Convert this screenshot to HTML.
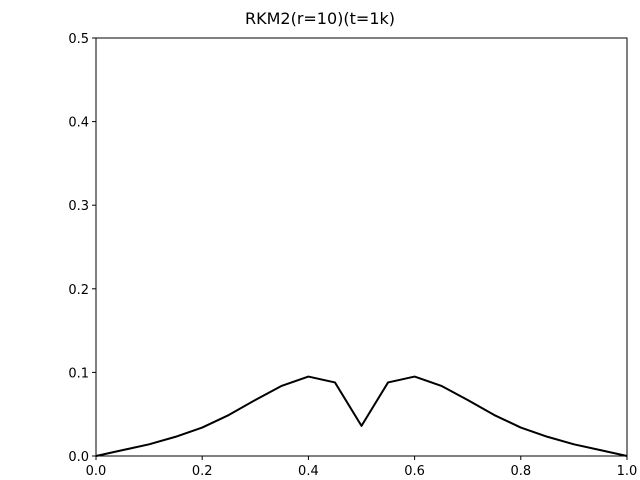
<!DOCTYPE html>
<html>
<head>
<meta charset="utf-8">
<style>
html,body{margin:0;padding:0;background:#fff;}
svg{display:block;font-family:"DejaVu Sans","Liberation Sans",sans-serif;}
</style>
</head>
<body>
<svg id="chart" width="640" height="480" viewBox="0 0 640 480">
<text x="320" y="24" text-anchor="middle" font-size="16">RKM2(r=10)(t=1k)</text>
<g id="axes"></g>
<polyline id="series" fill="none" stroke="#000" stroke-width="2" stroke-linejoin="round"></polyline>
<rect x="96" y="38" width="531" height="418" fill="none" stroke="#000" stroke-width="1"></rect>
</svg>
<script>
const xValues = [0,0.05,0.1,0.15,0.2,0.25,0.3,0.35,0.4,0.45,0.5,0.55,0.6,0.65,0.7,0.75,0.8,0.85,0.9,0.95,1.0];
const yValues = [0,0.007,0.014,0.023,0.034,0.049,0.067,0.084,0.095,0.088,0.036,0.088,0.095,0.084,0.067,0.049,0.034,0.023,0.014,0.007,0];
const xTicks = [0,0.2,0.4,0.6,0.8,1.0];
const xTickLabels = ["0.0","0.2","0.4","0.6","0.8","1.0"];
const yTicks = [0,0.1,0.2,0.3,0.4,0.5];
const yTickLabels = ["0.0","0.1","0.2","0.3","0.4","0.5"];

const X0=96,X1=627,Y0=456,Y1=38;
function sx(v){return X0+(v-0)/(1-0)*(X1-X0);}
function sy(v){return Y0-(v-0)/(0.5-0)*(Y0-Y1);}
const NS="http://www.w3.org/2000/svg";
const axes=document.getElementById('axes');
xTicks.forEach((t,i)=>{
  const l=document.createElementNS(NS,'line');
  l.setAttribute('x1',sx(t));l.setAttribute('x2',sx(t));l.setAttribute('y1',Y0);l.setAttribute('y2',Y0+4);l.setAttribute('stroke','#000');
  
  
  axes.appendChild(l);
  const tx=document.createElementNS(NS,'text');
  tx.setAttribute('x',sx(t));tx.setAttribute('y',Y0+19);tx.setAttribute('text-anchor','middle');tx.setAttribute('font-size','13');
  tx.textContent=xTickLabels[i];
  
  
  axes.appendChild(tx);
});
yTicks.forEach((t,i)=>{
  const l=document.createElementNS(NS,'line');
  l.setAttribute('x1',X0-4);l.setAttribute('x2',X0);l.setAttribute('y1',sy(t));l.setAttribute('y2',sy(t));l.setAttribute('stroke','#000');
  
  
  axes.appendChild(l);
  const tx=document.createElementNS(NS,'text');
  tx.setAttribute('x',X0-7);tx.setAttribute('y',sy(t)+5);tx.setAttribute('text-anchor','end');tx.setAttribute('font-size','13');
  tx.textContent=yTickLabels[i];
  
  
  axes.appendChild(tx);
});
document.getElementById('series').setAttribute('points',xValues.map((x,i)=>sx(x)+','+sy(yValues[i])).join(' '));
</script>
</body>
</html>
